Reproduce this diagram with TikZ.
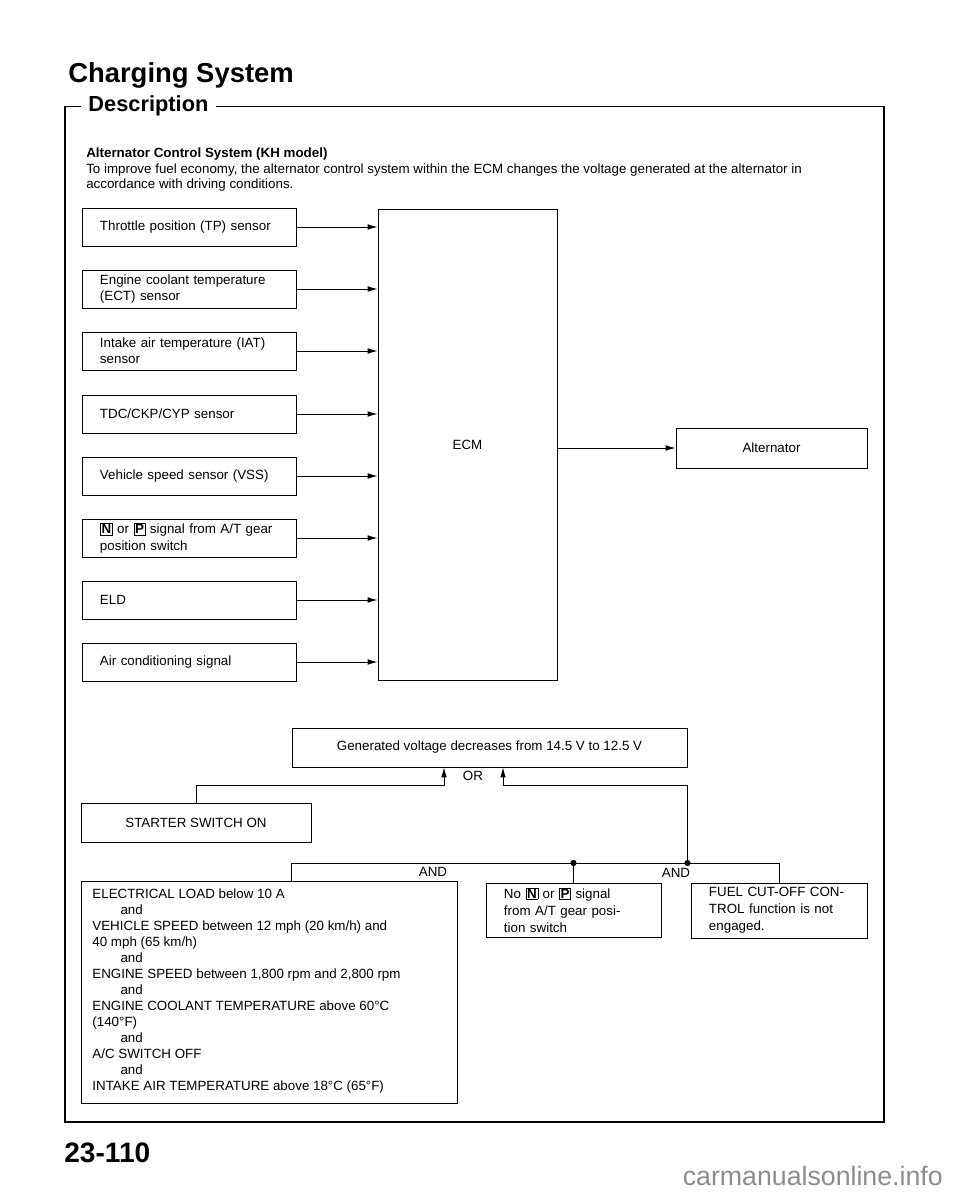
\documentclass[tikz,border=0pt]{standalone}
\usepackage{fontspec}
\setmainfont{Liberation Sans}
\usetikzlibrary{arrows.meta}

\newcommand{\gearpos}[1]{{\fboxsep=0.6pt\fboxrule=0.5pt\fbox{\textbf{#1}}}}

\tikzset{
	box/.style = {draw, line width=0.6pt, font=\fontsize{9.5}{11.4}\selectfont},
	sensor/.style = {box, minimum height=0.95cm, text width=4.45cm, inner xsep=0.45cm, inner ysep=0pt, align=left},
	block/.style = {box, inner sep=0pt, align=center},
	cond/.style = {box, minimum height=1.35cm, inner xsep=0.45cm, inner ysep=0pt, align=left, font=\fontsize{9.5}{12.1}\selectfont},
	gate/.style = {inner sep=1pt, font=\fontsize{9.5}{11}\selectfont},
	wire/.style = {line width=0.6pt},
	feed/.style = {wire, -{Latex[length=7pt, width=4pt]}},
	border/.style = {line width=1.2pt}
}

\begin{document}
\begin{tikzpicture}[x=0.025cm, y=-0.025cm]
		\useasboundingbox (0, 0) rectangle (960, 1200);
		\node [anchor=base west, inner sep=0, font=\fontsize{19.5}{20}\selectfont\bfseries] (title) at (68, 83) {Charging System};
		\node [anchor=base west, inner xsep=0.18cm, inner ysep=0, font=\fontsize{15.5}{16}\selectfont\bfseries] (desc) at (81, 112) {Description};
		\coordinate (framesw) at (65, 1122);
		\coordinate (framene) at (884, 106);
		\draw [border] (desc.west) -- (desc.west -| framesw) -- (framesw) -- (framesw -| framene) -- (framene |- desc.east) -- (desc.east);
		\node [anchor=north west, inner sep=0, align=left, font=\fontsize{9.5}{10.7}\selectfont] (intro) at (86, 148)
			{\textbf{Alternator Control System (KH model)}\\
			 To improve fuel economy, the alternator control system within the ECM changes the voltage generated at the alternator in\\
			 accordance with driving conditions.};
		\node [sensor] (tp) at (189, 227) {Throttle position (TP) sensor};
		\node [sensor] (ect) at (189, 289) {Engine coolant temperature\\(ECT) sensor};
		\node [sensor] (iat) at (189, 351) {Intake air temperature (IAT)\\sensor};
		\node [sensor] (tdc) at (189, 414) {TDC/CKP/CYP sensor};
		\node [sensor] (vss) at (189, 476) {Vehicle speed sensor (VSS)};
		\node [sensor] (gear) at (189, 538) {\gearpos{N} or \gearpos{P} signal from A/T gear\\position switch};
		\node [sensor] (eld) at (189, 600) {ELD};
		\node [sensor] (ac) at (189, 662) {Air conditioning signal};
		\node [block, minimum width=4.475cm, minimum height=11.775cm] (ecm) at (467.5, 444.5) {ECM};
		\node [block, minimum width=4.775cm, minimum height=1cm] (alt) at (771.5, 448) {Alternator};
		\draw [feed] (tp.east) -- (tp.east -| ecm.west);
		\draw [feed] (ect.east) -- (ect.east -| ecm.west);
		\draw [feed] (iat.east) -- (iat.east -| ecm.west);
		\draw [feed] (tdc.east) -- (tdc.east -| ecm.west);
		\draw [feed] (vss.east) -- (vss.east -| ecm.west);
		\draw [feed] (gear.east) -- (gear.east -| ecm.west);
		\draw [feed] (eld.east) -- (eld.east -| ecm.west);
		\draw [feed] (ac.east) -- (ac.east -| ecm.west);
		\draw [feed] (ecm.east |- alt.west) -- (alt.west);
		\node [block, minimum width=9.875cm, minimum height=0.975cm] (gen) at (489.5, 747.5) {Generated voltage decreases from 14.5 V to 12.5 V};
		\node [block, minimum width=5.75cm, minimum height=0.975cm] (starter) at (196, 822.5) {STARTER SWITCH ON};
		\node [cond, text width=3.475cm] (nonp) at (573.5, 910) {No \gearpos{N} or \gearpos{P} signal\\from A/T gear posi-\\tion switch};
		\node [cond, text width=3.5cm, minimum height=1.375cm] (fuel) at (779, 910.5) {FUEL CUT-OFF CON-\\TROL function is not\\engaged.};
		\node [box, anchor=north west, inner xsep=0.275cm, inner ysep=0pt] (elec) at (81, 881)
			{\parbox[t][5.55cm][t]{8.85cm}{\fontsize{9.5}{11.4}\selectfont\lineskiplimit=-10pt
			 \rule{0pt}{12pt}ELECTRICAL LOAD below 10 A\\
			 \hspace*{20pt}and\\
			 VEHICLE SPEED between 12 mph (20 km/h) and\\
			 40 mph (65 km/h)\\
			 \hspace*{20pt}and\\
			 ENGINE SPEED between 1,800 rpm and 2,800 rpm\\
			 \hspace*{20pt}and\\
			 ENGINE COOLANT TEMPERATURE above 60°C\\
			 (140°F)\\
			 \hspace*{20pt}and\\
			 A/C SWITCH OFF\\
			 \hspace*{20pt}and\\
			 INTAKE AIR TEMPERATURE above 18°C (65°F)}};
		\coordinate (orleft) at (444, 785);
		\coordinate (orright) at (503, 785);
		\coordinate (andleft) at (291, 863);
		\coordinate (andright) at (gen.east |- andleft);
		\draw [feed] (starter.north) |- (orleft) -- (orleft |- gen.south);
		\draw [feed] (andright) |- (orright) -- (orright |- gen.south);
		\draw [wire] (elec.north -| andleft) -- (andleft) -- (andleft -| fuel.north) -- (fuel.north);
		\draw [wire] (nonp.north) -- (nonp.north |- andleft);
		\fill (nonp.north |- andleft) circle (2.2pt);
		\fill (andright) circle (2.2pt);
		\node [gate] (orlabel) at (473, 776) {OR};
		\node [gate] (andlabel) at (433, 872) {AND};
		\node [gate] (andlabel2) at (676, 873) {AND};
		\node [anchor=base west, inner sep=0, font=\fontsize{20}{20}\selectfont\bfseries] (page) at (64, 1162) {23-110};
		\node [anchor=base east, inner sep=0, text=black!45, font=\fontsize{19}{19}\selectfont] (site) at (943, 1185) {carmanualsonline.info};
	\end{tikzpicture}
\end{document}
